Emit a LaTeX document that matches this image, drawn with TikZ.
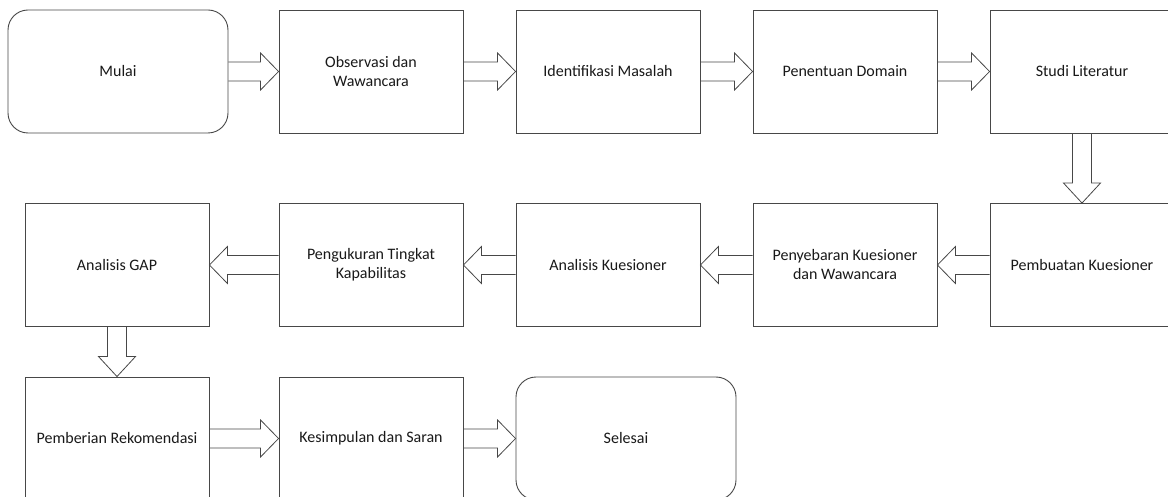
\documentclass[tikz,border=0pt]{standalone}
\usepackage{fontspec}
\setmainfont{Carlito}
\usetikzlibrary{calc}
\begin{document}
\begin{tikzpicture}[x=1pt,y=1pt,
  box/.style={draw=black!72, line width=0.9pt, fill=white, minimum width=184pt, minimum height=123pt, inner sep=2pt, align=center, font=\fontsize{16}{19}\selectfont, text=black!90},
  term/.style={box, minimum width=220pt, rounded corners=20pt},
  blk/.style={draw=black!72, line width=0.8pt, line join=miter}]
\useasboundingbox (0,0) rectangle (1168,-497);
\clip (0,0) rectangle (1168,-497);
% row 1
\node[term] (mulai) at (118,-71.5) {Mulai};
\node[box] (obs) at (371,-71.5) {Observasi dan\\Wawancara};
\node[box] (idm) at (608,-71.5) {Identifikasi Masalah};
\node[box] (dom) at (845,-71.5) {Penentuan Domain};
\node[box] (lit) at (1082,-71.5) {Studi Literatur};
% row 2
\node[box] (gap) at (117,-265) {Analisis GAP};
\node[box] (kap) at (371,-265) {Pengukuran Tingkat\\Kapabilitas};
\node[box] (ank) at (608,-265) {Analisis Kuesioner};
\node[box] (pen) at (845,-265) {Penyebaran Kuesioner\\dan Wawancara};
\node[box] (pem) at (1082,-265) {Pembuatan Kuesioner};
% row 3
\node[box] (rek) at (117,-438.5) {Pemberian Rekomendasi};
\node[box] (kes) at (371,-438.5) {Kesimpulan dan Saran};
\node[term] (sel) at (626,-438.5) {Selesai};
% block arrows
\newcommand{\rarr}[2]{%
  \draw[blk] ($(#1.east)+(0,9.5)$) -- ($(#2.west)+(-18,9.5)$) -- ($(#2.west)+(-18,18.5)$) -- (#2.west)
    -- ($(#2.west)+(-18,-18.5)$) -- ($(#2.west)+(-18,-9.5)$) -- ($(#1.east)+(0,-9.5)$);}
\newcommand{\larr}[2]{%
  \draw[blk] ($(#1.west)+(0,9.5)$) -- ($(#2.east)+(18,9.5)$) -- ($(#2.east)+(18,18.5)$) -- (#2.east)
    -- ($(#2.east)+(18,-18.5)$) -- ($(#2.east)+(18,-9.5)$) -- ($(#1.west)+(0,-9.5)$);}
\newcommand{\darr}[2]{%
  \draw[blk] ($(#1.south)+(-9.5,0)$) -- ($(#2.north)+(-9.5,20)$) -- ($(#2.north)+(-18.5,20)$) -- (#2.north)
    -- ($(#2.north)+(18.5,20)$) -- ($(#2.north)+(9.5,20)$) -- ($(#1.south)+(9.5,0)$);}
\rarr{mulai}{obs}
\rarr{obs}{idm}
\rarr{idm}{dom}
\rarr{dom}{lit}
\darr{lit}{pem}
\larr{pem}{pen}
\larr{pen}{ank}
\larr{ank}{kap}
\larr{kap}{gap}
\darr{gap}{rek}
\rarr{rek}{kes}
\rarr{kes}{sel}
\end{tikzpicture}
\end{document}
